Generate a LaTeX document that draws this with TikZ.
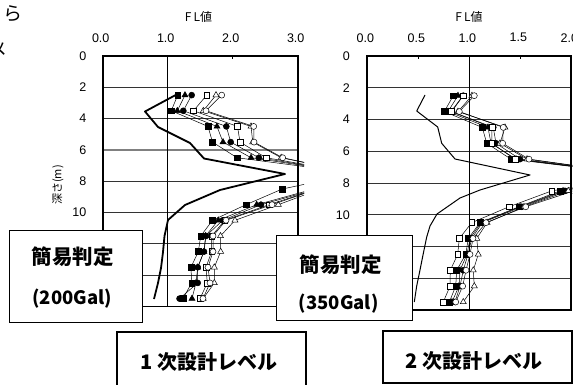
\documentclass[tikz,border=0pt]{standalone}
\usepackage{fontspec}
\setmainfont{Liberation Sans}
\newfontfamily\jp{Noto Sans CJK JP}
\usetikzlibrary{plotmarks}
\begin{document}
\begin{tikzpicture}[x=1pt,y=-1pt,
  grid/.style={line width=0.9pt,black!80},
  gridsix/.style={line width=1.8pt,black!50},
  frm/.style={line width=1.8pt,black},
  ser/.style={line width=0.5pt,black},
  sqf/.style={ser,mark=square*,mark size=2.9pt,mark options={fill=black,line width=0.5pt}},
  sqo/.style={ser,mark=square*,mark size=2.9pt,mark options={fill=white,line width=0.5pt}},
  trf/.style={ser,mark=triangle*,mark size=3.5pt,mark options={fill=black,line width=0.5pt}},
  tro/.style={ser,mark=triangle*,mark size=3.5pt,mark options={fill=white,line width=0.5pt}},
  cif/.style={ser,mark=*,mark size=3pt,mark options={fill=black,line width=0.5pt}},
  cio/.style={ser,mark=*,mark size=3pt,mark options={fill=white,line width=0.5pt}},
  num/.style={font=\fontsize{12.5}{13}\selectfont,inner sep=0pt},
  fltxt/.style={font=\jp\fontsize{12}{13}\selectfont,inner sep=0pt},
  box/.style={draw,fill=white,inner sep=0pt},
  btxt/.style={font=\jp\bfseries\fontsize{20.5}{22}\selectfont,inner sep=0pt},
  btxtb/.style={font=\jp\bfseries\fontsize{18.5}{20}\selectfont,inner sep=0pt},
  lvtxt/.style={font=\jp\bfseries\fontsize{20}{22}\selectfont,inner sep=0pt}
]
\useasboundingbox (0,0) rectangle (573,385);
\fill[white] (0,0) rectangle (573,385);

% cut-off text at top left
\node[font=\jp\fontsize{19}{20}\selectfont,inner sep=0pt] (cutra) at (13.5,13.5) {ら};
\node[font=\jp\fontsize{18}{19}\selectfont,inner sep=0pt] (cutme) at (-1,50) {メ};

% ---------------- left chart ----------------
\begin{scope}[shift={(102.7,56)},x=65pt,y=-15.65pt]
  \foreach \d in {2,4,8,10,12,14} \draw[grid] (0,\d) -- (3,\d);
  \draw[gridsix] (0,6) -- (3,6);
  \draw[line width=1pt] (1,0) -- (1,16);
  \draw[line width=0.8pt] (2,0) -- (2,0.22);
\end{scope}

\draw[line width=1.8pt,line join=round] (175.7,95) -- (145,111.5) -- (158,127) -- (190,143) -- (204,158.5) -- (285,174) -- (220,190) -- (185,205) -- (168,220) -- (164.5,236) -- (163,252) -- (161,268) -- (158,283) -- (154,299);

\begin{scope}[shift={(102.7,56)},x=65pt,y=-15.65pt]
  \begin{scope}
    \clip (-0.3,-0.5) rectangle (3.097,16.5);
    \draw[sqf] plot coordinates {(1.154,2.5) (1.055,3.5) (1.620,4.5) (1.689,5.5) (2.066,6.5) (3.9,7.5) (2.762,8.5) (2.205,9.5) (1.689,10.5) (1.508,11.5) (1.471,12.5) (1.358,13.5) (1.369,14.5) (1.235,15.5)};
    \draw[trf] plot coordinates {(1.266,2.5) (1.148,3.5) (1.758,4.5) (1.851,5.5) (2.282,6.5) (3.9,7.5) (3.25,8.5) (2.369,9.5) (1.778,10.5) (1.582,11.5) (1.558,12.5) (1.462,13.5) (1.435,14.5) (1.374,15.5)};
    \draw[cif] plot coordinates {(1.369,2.5) (1.240,3.5) (1.902,4.5) (1.969,5.5) (2.402,6.5) (3.9,7.5) (3.3,8.5) (2.435,9.5) (1.846,10.5) (1.589,11.5) (1.558,12.5) (1.462,13.5) (1.462,14.5) (1.182,15.5)};
    \draw[sqo] plot coordinates {(1.600,2.5) (1.397,3.5) (2.074,4.5) (2.112,5.5) (2.512,6.5) (3.9,7.5) (3.3,8.5) (2.558,9.5) (1.877,10.5) (1.677,11.5) (1.677,12.5) (1.589,13.5) (1.609,14.5) (1.497,15.5)};
    \draw[tro] plot coordinates {(1.743,2.5) (1.548,3.5) (2.282,4.5) (2.308,5.5) (2.746,6.5) (3.9,7.5) (3.35,8.5) (2.702,9.5) (2.035,10.5) (1.812,11.5) (1.815,12.5) (1.717,13.5) (1.717,14.5) (1.546,15.5)};
    \draw[cio] plot coordinates {(1.831,2.5) (1.589,3.5) (2.323,4.5) (2.328,5.5) (2.769,6.5) (3.9,7.5) (3.3,8.5) (2.605,9.5) (1.897,10.5) (1.697,11.5) (1.697,12.5) (1.620,13.5) (1.651,14.5) (1.543,15.5)};
  \end{scope}
  \draw[frm] (0,0) rectangle (3,16);
  \foreach \v/\t in {0/0.0,1/1.0,2/2.0,3/3.0}
    \node[num] (lx\v) at ([xshift=-2pt]\v,-1.15) {\t};
  \foreach \d in {0,2,4,6,8,10}
    \node[num,anchor=east] (ly\d) at (-0.25,\d) {\d};
\end{scope}
\node[fltxt] (lfl) at (198.5,17) {F\hspace{2pt}L値};
\node[font=\jp\fontsize{11}{12}\selectfont,inner sep=0pt,rotate=90] (ldepth) at (58,185) {深さ(m)};

% ---------------- right chart ----------------
\begin{scope}[shift={(367.3,56)},x=102pt,y=-15.87pt]
  \foreach \d in {2,4,6,8,10,12,14} \draw[grid] (0,\d) -- (2,\d);
  \draw[line width=1pt] (1,0) -- (1,16);
  \draw[line width=0.8pt] (0.5,0) -- (0.5,0.22);
  \draw[line width=0.8pt] (1.5,0) -- (1.5,0.22);
\end{scope}

\draw[line width=1pt,line join=round] (425,95) -- (416.7,111) -- (437.7,127) -- (441.7,143.3) -- (455,159) -- (530,175) -- (480,190) -- (460,198) -- (437,214) -- (430,226) -- (426.7,237) -- (423.3,253.5) -- (420,270) -- (416.7,286) -- (414.3,302);

\begin{scope}[shift={(367.3,56)},x=102pt,y=-15.87pt]
  \begin{scope}
    \clip (-0.3,-0.5) rectangle (2.01,16.5);
    \draw[sqf] plot coordinates {(0.843,2.5) (0.755,3.5) (1.127,4.5) (1.171,5.5) (1.409,6.5) (2.7,7.5) (1.889,8.5) (1.487,9.5) (1.105,10.5) (0.990,11.5) (0.965,12.5) (0.876,13.5) (0.867,14.5) (0.804,15.5)};
    \draw[trf] plot coordinates {(0.889,2.5) (0.791,3.5) (1.183,4.5) (1.213,5.5) (1.458,6.5) (2.7,7.5) (1.919,8.5) (1.497,9.5) (1.115,10.5) (1.007,11.5) (0.977,12.5) (0.909,13.5) (0.899,14.5) (0.830,15.5)};
    \draw[cif] plot coordinates {(0.941,2.5) (0.827,3.5) (1.235,4.5) (1.262,5.5) (1.497,6.5) (2.7,7.5) (1.938,8.5) (1.514,9.5) (1.127,10.5) (1.024,11.5) (0.987,12.5) (0.941,13.5) (0.909,14.5) (0.860,15.5)};
    \draw[sqo] plot coordinates {(0.938,2.5) (0.821,3.5) (1.223,4.5) (1.220,5.5) (1.448,6.5) (2.7,7.5) (1.808,8.5) (1.389,9.5) (1.024,10.5) (0.902,11.5) (0.886,12.5) (0.814,13.5) (0.811,14.5) (0.745,15.5)};
    \draw[tro] plot coordinates {(1.026,2.5) (0.889,3.5) (1.350,4.5) (1.301,5.5) (1.566,6.5) (2.7,7.5) (1.971,8.5) (1.536,9.5) (1.174,10.5) (1.073,11.5) (1.088,12.5) (1.039,13.5) (1.049,14.5) (0.941,15.5)};
    \draw[cio] plot coordinates {(1.049,2.5) (0.902,3.5) (1.333,4.5) (1.327,5.5) (1.585,6.5) (2.7,7.5) (2.024,8.5) (1.553,9.5) (1.164,10.5) (1.036,11.5) (1.007,12.5) (0.968,13.5) (0.935,14.5) (0.867,15.5)};
  \end{scope}
  \draw[frm] (0,0) rectangle (2,16);
  \foreach \v/\t in {0/0.0,0.5/0.5,1/1.0,1.5/1.5,2/2.0}
    \node[num] (rx\v) at ([xshift=-2pt]\v,-1.15) {\t};
  \foreach \d in {0,2,4,6,8,10}
    \node[num,anchor=east] (ry\d) at (-0.17,\d) {\d};
\end{scope}
\node[fltxt] (rfl) at (469,17) {F\hspace{2pt}L値};

% ---------------- boxes ----------------
\node[box,line width=0.8pt,minimum width=133.7pt,minimum height=92.7pt] (b200) at (75.85,276.35) {};
\node[btxt] (b200a) at (72.5,256.7) {簡易判定};
\node[btxtb] (b200b) at (72.3,298.3) {(200Gal)};

\node[box,line width=0.8pt,minimum width=136.3pt,minimum height=85pt] (b350) at (344.15,277.5) {};
\node[btxt] (b350a) at (340.5,265) {簡易判定};
\node[btxtb] (b350b) at (338.7,303.5) {(350Gal)};

\node[box,line width=1.8pt,minimum width=189.3pt,minimum height=64pt] (lv1) at (211.35,363.7) {};
\node[lvtxt] (lv1t) at (209,361.7) {1\hspace{4pt}次設計レベル};

\node[box,line width=1.8pt,minimum width=189pt,minimum height=52pt] (lv2) at (477.2,357) {};
\node[lvtxt] (lv2t) at (474,361) {2\hspace{4pt}次設計レベル};
\end{tikzpicture}
\end{document}
